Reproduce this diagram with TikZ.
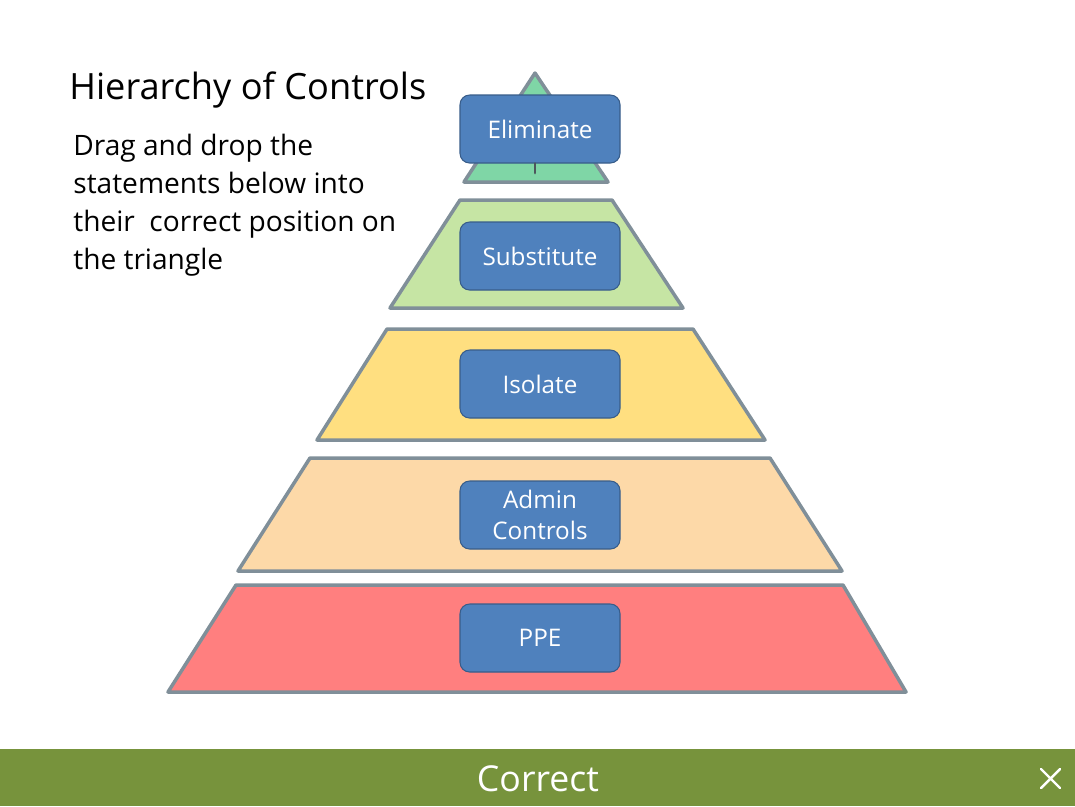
\documentclass[tikz,border=0pt]{standalone}
\usepackage{fontspec}
\setmainfont{Open Sans}
\definecolor{tipgreen}{RGB}{127,214,166}
\definecolor{subgreen}{RGB}{198,229,164}
\definecolor{isoyellow}{RGB}{255,223,128}
\definecolor{adminpeach}{RGB}{253,217,168}
\definecolor{ppered}{RGB}{255,127,127}
\definecolor{edgegray}{RGB}{128,143,153}
\definecolor{boxblue}{RGB}{79,129,189}
\definecolor{boxedge}{RGB}{56,93,138}
\definecolor{barolive}{RGB}{119,147,60}
\tikzset{
  layer/.style={draw=edgegray, line width=2pt, line join=round},
  box/.style={draw=boxedge, fill=boxblue, rounded corners=5.5pt, line width=0.6pt,
    minimum width=160*0.02cm, minimum height=68*0.02cm, text=white,
    align=center, font=\fontsize{13.8}{18}\selectfont, inner sep=0pt}
}
\begin{document}
\begin{tikzpicture}[x=0.02cm, y=-0.02cm, line cap=round]
				% Page frame
				\useasboundingbox (0,0) rectangle (1075,806);
				\fill[white] (0,0) rectangle (1075,806);
				
				% Pyramid layers, top to bottom
				\filldraw[layer, fill=tipgreen] (535,73) -- (608,182) -- (464,182) -- cycle;
				\filldraw[layer, fill=subgreen] (460,200) -- (612,200) -- (683,308) -- (390,308) -- cycle;
				\filldraw[layer, fill=isoyellow] (387,329) -- (693,329) -- (765,440) -- (317,440) -- cycle;
				\filldraw[layer, fill=adminpeach] (310,458) -- (770,458) -- (842,571) -- (238,571) -- cycle;
				\filldraw[layer, fill=ppered] (236,585) -- (843,585) -- (906,692) -- (168,692) -- cycle;
				
				% Statement boxes
				\node[box] (elim) at (540,129) {Eliminate};
				\node[box] (subst) at (540,256) {Substitute};
				\node[box] (isol) at (540,384) {Isolate};
				\node[box] (admin) at (540,515) {Admin\\Controls};
				\node[box] (ppe) at (540,638) {PPE};
				\coordinate (stub) at (535,173);
				\draw[edgegray!60!black, line width=1.6pt] (elim.south -| stub) -- (stub);
				
				% Heading and instructions
				\node[anchor=base west, inner sep=0pt, font=\fontsize{20.6}{24}\selectfont] (title) at (69,99) {Hierarchy of Controls};
				\node[anchor=north west, inner sep=0pt, align=left, font=\fontsize{16}{21.5}\selectfont] (task) at (73,134)
					{Drag and drop the\\statements below into\\their\ \ correct position on\\the triangle};
				
				% Feedback bar
				\fill[barolive] (0,749) rectangle (1075,806);
				\node[text=white, font=\fontsize{20.3}{24}\selectfont] (result) at (538,779) {Correct};
				\coordinate (xa) at (1041,769);
				\coordinate (xb) at (1060,788);
				\draw[white, line width=1.4pt] (xa) -- (xb) (xa |- xb) -- (xb |- xa);
		\end{tikzpicture}
\end{document}
